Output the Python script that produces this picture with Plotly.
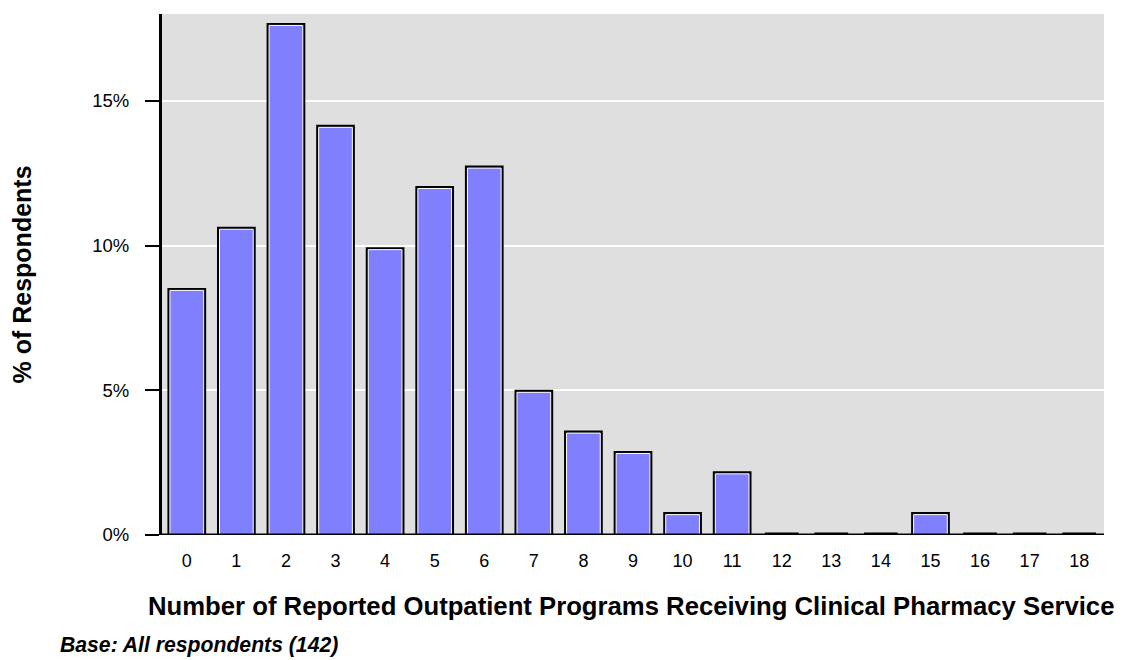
import plotly.graph_objects as go

categories = list(range(19))
respondents = [12, 15, 25, 20, 14, 17, 18, 7, 5, 4, 1, 3, 0, 0, 0, 1, 0, 0, 0]
base_n = 142
pct = [r / base_n * 100 for r in respondents]

tick_vals = [0, 5, 10, 15]
tick_text = ["0%", "5%", "10%", "15%"]

FONT = "Arial, Liberation Sans, sans-serif"
BAR_W = 0.68

fig = go.Figure()
# outer black outline
fig.add_trace(go.Bar(
    x=categories, y=pct, width=BAR_W,
    marker=dict(color="black", line=dict(color="black", width=5)),
    hoverinfo="skip", showlegend=False,
))
# fill with white inner edge
fig.add_trace(go.Bar(
    x=categories, y=pct, width=BAR_W,
    marker=dict(color="#8080FF", line=dict(color="white", width=1)),
    showlegend=False,
))

fig.update_layout(
    width=1125, height=660,
    barmode="overlay",
    paper_bgcolor="white",
    plot_bgcolor="#DFDFDF",
    margin=dict(l=162, r=21, t=14, b=125),
    font=dict(family=FONT, color="black", size=18),
    xaxis=dict(
        range=[-0.5, 18.5], tickmode="array", tickvals=categories,
        ticktext=[str(c) for c in categories],
        showgrid=False, zeroline=False,
        showline=False, ticks="", ticklen=0, ticklabelstandoff=13,
        tickfont=dict(size=18), fixedrange=True,
    ),
    yaxis=dict(
        range=[0, 18], tickmode="array", tickvals=tick_vals, ticktext=tick_text,
        showgrid=True, gridcolor="white", gridwidth=2,
        zeroline=False, showline=True, linecolor="black", linewidth=3,
        ticks="outside", ticklen=14, tickwidth=2, tickcolor="black",
        ticklabelstandoff=12,
        tickfont=dict(size=18.5), fixedrange=True,
    ),
    shapes=[dict(type="line", xref="paper", yref="y", x0=0, x1=1, y0=0, y1=0,
                 line=dict(color="black", width=3), layer="above")],
    annotations=[
        dict(text="<b>Number of Reported Outpatient Programs Receiving Clinical Pharmacy Service</b>",
             xref="paper", yref="paper", x=0.5, xshift=-2, y=-0.1363, xanchor="center", yanchor="middle",
             showarrow=False, font=dict(size=25.7)),
        dict(text="<b>% of Respondents</b>", xref="paper", yref="paper",
             x=0, xshift=-141, y=0.5, textangle=-90, xanchor="center", yanchor="middle",
             showarrow=False, font=dict(size=25)),
        dict(text="<b><i>Base: All respondents (142)</i></b>", xref="paper", yref="paper",
             x=0, xshift=-104, y=-0.211, xanchor="left", yanchor="middle",
             showarrow=False, font=dict(size=21.2)),
    ],
)

fig.write_html("out.html", post_script="document.body.style.margin='0';",
               config={"displayModeBar": False})
